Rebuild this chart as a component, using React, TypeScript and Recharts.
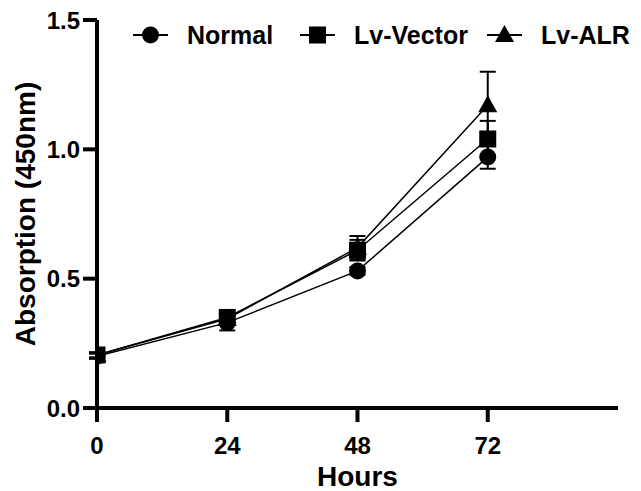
import { LineChart, Line, XAxis, YAxis, ErrorBar, Legend, Label } from 'recharts';

const hours = [0, 24, 48, 72];
const normal = [0.2, 0.33, 0.53, 0.97];
const normalErr = [0.01, 0.03, 0.015, 0.045];
const vector = [0.205, 0.35, 0.61, 1.04];
const vectorErr = [0.01, 0.015, 0.04, 0.07];
const alr = [0.205, 0.345, 0.62, 1.17];
const alrErr = [0.01, 0.015, 0.045, 0.13];
const seriesNames = ['Normal', 'Lv-Vector', 'Lv-ALR'];
const yTicks = [0, 0.5, 1.0, 1.5];

const data = hours.map((h, i) => ({
    h,
    normal: normal[i],
    normalErr: normalErr[i],
    vector: vector[i],
    vectorErr: vectorErr[i],
    alr: alr[i],
    alrErr: alrErr[i],
}));

const FONT = '"Liberation Sans", Arial, sans-serif';

function marker(shape: string, cx: number, cy: number, key?: string) {
    if (shape === 'circle') return <circle key={key} cx={cx} cy={cy} r={8.5} fill="#000" />;
    if (shape === 'square') return <rect key={key} x={cx - 8.5} y={cy - 8.5} width={17} height={17} fill="#000" />;
    return <polygon key={key} points={`${cx},${cy - 10} ${cx - 9.5},${cy + 7} ${cx + 9.5},${cy + 7}`} fill="#000" />;
}

const makeDot = (shape: string) => (props: any) => marker(shape, props.cx, props.cy, `${shape}-${props.index}`);

const shapes = ['circle', 'square', 'triangle'];
const itemWidths = [167, 187, 150];

function LegendContent() {
    return (
        <div style={{ display: 'flex', alignItems: 'center', fontFamily: FONT, fontWeight: 'bold', fontSize: 25, color: '#000' }}>
            {seriesNames.map((name, i) => (
                <div key={name} style={{ display: 'flex', alignItems: 'center', width: itemWidths[i] }}>
                    <svg width={36} height={24}>
                        <line x1={0} y1={12} x2={35} y2={12} stroke="#000" strokeWidth={2} />
                        {marker(shapes[i], 17.5, 12)}
                    </svg>
                    <span style={{ marginLeft: 18, lineHeight: '30px' }}>{name}</span>
                </div>
            ))}
        </div>
    );
}

const YLabel = (props: any) => {
    const vb = props.viewBox;
    const cy = vb.y + vb.height / 2;
    return (
        <text x={25} y={cy} transform={`rotate(-90 25 ${cy})`} textAnchor="middle" dominantBaseline="central"
            fontFamily={FONT} fontWeight="bold" fontSize={28} fill="#000">
            Absorption (450nm)
        </text>
    );
};

const XLabel = (props: any) => {
    const vb = props.viewBox;
    return (
        <text x={vb.x + vb.width / 2} y={486} textAnchor="middle"
            fontFamily={FONT} fontWeight="bold" fontSize={28} fill="#000">
            Hours
        </text>
    );
};

const tickStyle = { fontFamily: FONT, fontWeight: 'bold', fontSize: 24, fill: '#000' };

export default function App() {
    return (
        <div style={{ position: 'absolute', left: 0, top: 0, background: '#fff' }}>
            <LineChart width={641} height={491} data={data} margin={{ top: 20, right: 23, bottom: 0, left: 0 }}>
                <XAxis dataKey="h" type="number" domain={[0, 96]} ticks={hours} allowDataOverflow
                    stroke="#000" axisLine={{ strokeWidth: 4 }} tickLine={{ strokeWidth: 4 }} tickSize={14}
                    tickMargin={15} height={83} tick={tickStyle}>
                    <Label content={XLabel} />
                </XAxis>
                <YAxis type="number" domain={[0, 1.5]} ticks={yTicks} tickFormatter={(v: number) => v.toFixed(1)}
                    stroke="#000" axisLine={{ strokeWidth: 4 }} tickLine={{ strokeWidth: 4 }} tickSize={14}
                    tickMargin={3} width={97} tick={tickStyle}>
                    <Label content={YLabel} />
                </YAxis>
                <Legend layout="horizontal" verticalAlign="middle" align="center" content={LegendContent}
                    wrapperStyle={{ top: 20, left: 133, width: 508, height: 30 }} />
                <Line dataKey="normal" name={seriesNames[0]} stroke="#000" strokeWidth={1.5} dot={makeDot('circle')}
                    activeDot={false} isAnimationActive={false}>
                    <ErrorBar dataKey="normalErr" direction="y" width={8} stroke="#000" strokeWidth={2} />
                </Line>
                <Line dataKey="vector" name={seriesNames[1]} stroke="#000" strokeWidth={1.5} dot={makeDot('square')}
                    activeDot={false} isAnimationActive={false}>
                    <ErrorBar dataKey="vectorErr" direction="y" width={8} stroke="#000" strokeWidth={2} />
                </Line>
                <Line dataKey="alr" name={seriesNames[2]} stroke="#000" strokeWidth={1.5} dot={makeDot('triangle')}
                    activeDot={false} isAnimationActive={false}>
                    <ErrorBar dataKey="alrErr" direction="y" width={8} stroke="#000" strokeWidth={2} />
                </Line>
            </LineChart>
        </div>
    );
}
